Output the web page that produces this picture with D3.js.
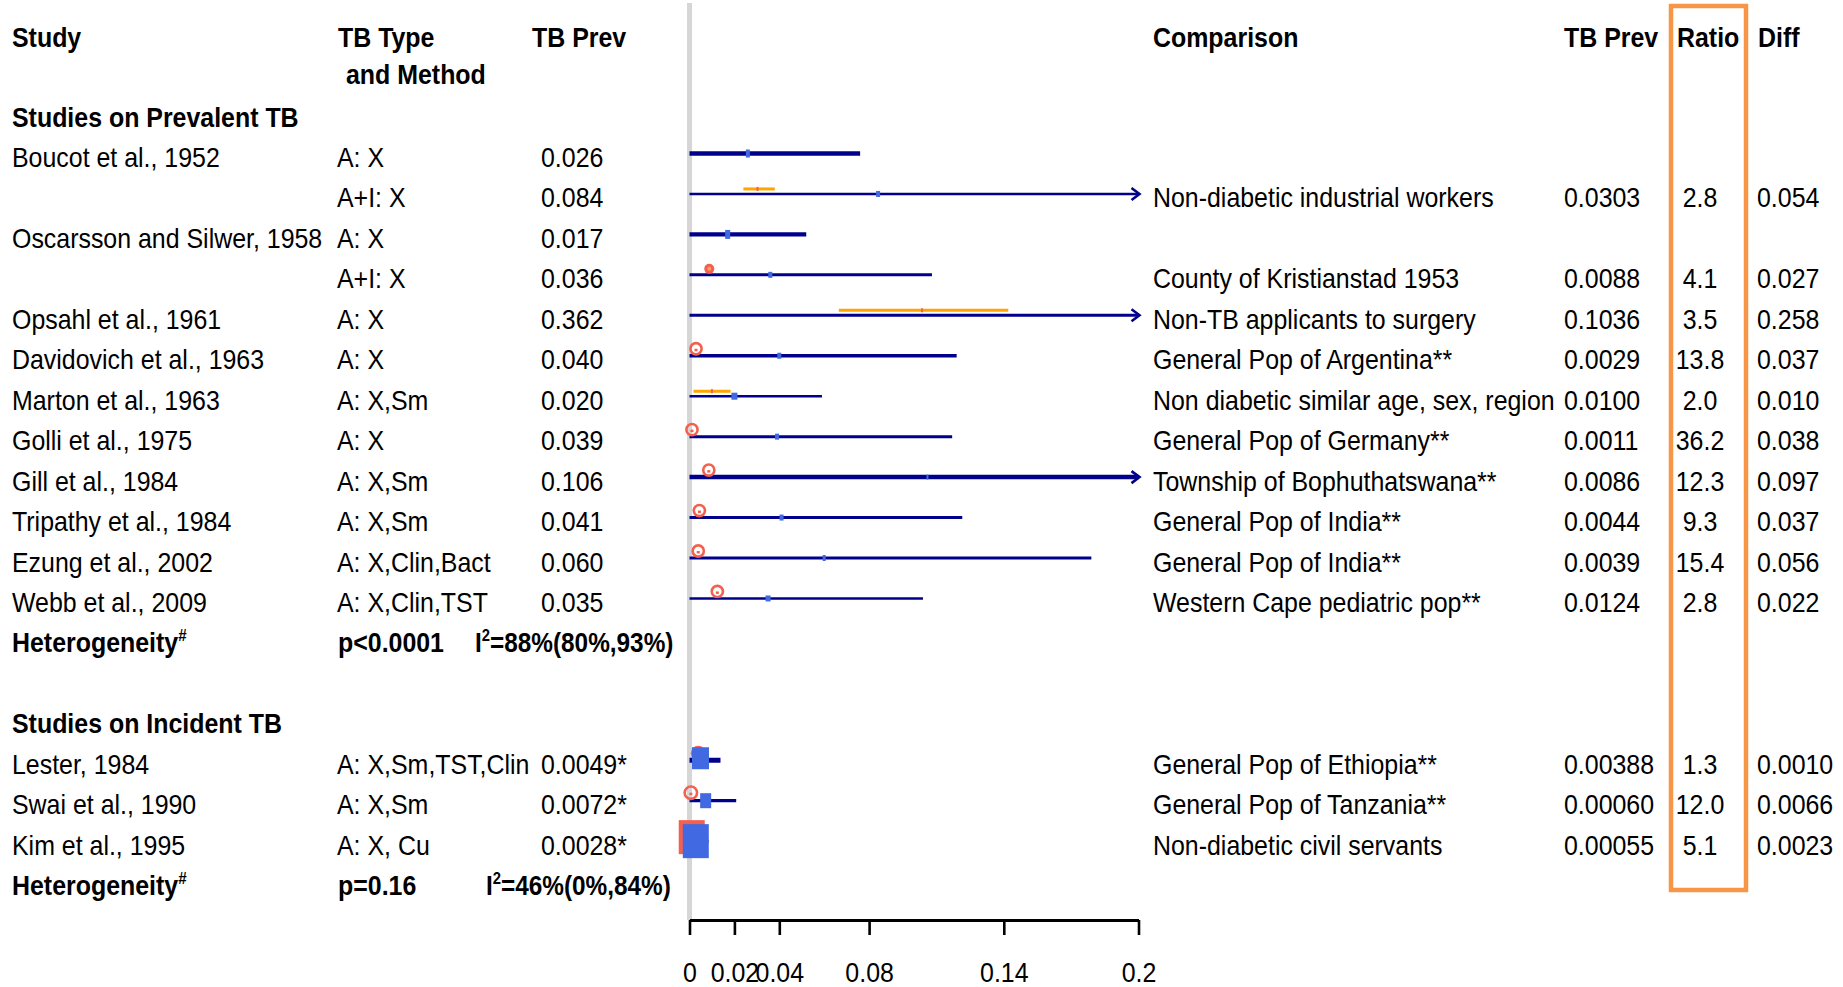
<!DOCTYPE html>
<html>
<head>
<meta charset="utf-8">
<script src="https://cdn.jsdelivr.net/npm/d3@7/dist/d3.min.js"></script>
<style>
  html, body { margin: 0; padding: 0; background: #fff; }
  svg { display: block; }
  text { font-family: "Liberation Sans", Arial, sans-serif; font-size: 28px; fill: #000; }
</style>
</head>
<body>
<svg id="chart" width="1843" height="987"></svg>
<script>
// ---------------- DATA ----------------
// Prevalent TB studies
const prevStudies = ["Boucot et al., 1952", "", "Oscarsson and Silwer, 1958", "", "Opsahl et al., 1961",
  "Davidovich et al., 1963", "Marton et al., 1963", "Golli et al., 1975", "Gill et al., 1984",
  "Tripathy et al., 1984", "Ezung et al., 2002", "Webb et al., 2009"];
const prevMethods = ["A: X", "A+I: X", "A: X", "A+I: X", "A: X", "A: X", "A: X,Sm", "A: X",
  "A: X,Sm", "A: X,Sm", "A: X,Clin,Bact", "A: X,Clin,TST"];
const prevLabels = ["0.026", "0.084", "0.017", "0.036", "0.362", "0.040", "0.020", "0.039",
  "0.106", "0.041", "0.060", "0.035"];
const prevValues = [0.026, 0.084, 0.017, 0.036, 0.362, 0.040, 0.020, 0.039, 0.106, 0.041, 0.060, 0.035];
const prevLow = [0, 0, 0, 0, 0, 0, 0, 0, 0, 0, 0, 0];
const prevHigh = [0.076, 0.30, 0.052, 0.108, 0.50, 0.119, 0.059, 0.117, 0.30, 0.1215, 0.179, 0.104];
const prevComparison = ["", "Non-diabetic industrial workers", "", "County of Kristianstad 1953",
  "Non-TB applicants to surgery", "General Pop of Argentina**", "Non diabetic similar age, sex, region",
  "General Pop of Germany**", "Township of Bophuthatswana**", "General Pop of India**",
  "General Pop of India**", "Western Cape pediatric pop**"];
const prevCompLabels = ["", "0.0303", "", "0.0088", "0.1036", "0.0029", "0.0100", "0.0011",
  "0.0086", "0.0044", "0.0039", "0.0124"];
const prevCompValues = [null, 0.0303, null, 0.0088, 0.1036, 0.0029, 0.0100, 0.0011, 0.0086, 0.0044, 0.0039, 0.0124];
const prevCompLow = [null, 0.024, null, null, 0.0665, null, 0.0018, null, null, null, null, null];
const prevCompHigh = [null, 0.038, null, null, 0.142, null, 0.0183, null, null, null, null, null];
const prevRatios = ["", "2.8", "", "4.1", "3.5", "13.8", "2.0", "36.2", "12.3", "9.3", "15.4", "2.8"];
const prevDiffs = ["", "0.054", "", "0.027", "0.258", "0.037", "0.010", "0.038", "0.097", "0.037", "0.056", "0.022"];

// Incident TB studies
const incStudies = ["Lester, 1984", "Swai et al., 1990", "Kim et al., 1995"];
const incMethods = ["A: X,Sm,TST,Clin", "A: X,Sm", "A: X, Cu"];
const incLabels = ["0.0049*", "0.0072*", "0.0028*"];
const incValues = [0.0049, 0.0072, 0.0028];
const incLow = [0, 0, 0];
const incHigh = [0.0138, 0.0208, 0.0085];
const incComparison = ["General Pop of Ethiopia**", "General Pop of Tanzania**", "Non-diabetic civil servants"];
const incCompLabels = ["0.00388", "0.00060", "0.00055"];
const incCompValues = [0.00388, 0.00060, 0.00055];
const incRatios = ["1.3", "12.0", "5.1"];
const incDiffs = ["0.0010", "0.0066", "0.0023"];

// Heterogeneity
const hetP = ["p<0.0001", "p=0.16"];
const hetI2 = ["88%(80%,93%)", "46%(0%,84%)"];

// Axis
const tickValues = [0, 0.02, 0.04, 0.08, 0.14, 0.2];
const tickLabels = ["0", "0.02", "0.04", "0.08", "0.14", "0.2"];

// ---------------- STYLE ----------------
const NAVY = "#00008b", BLUE = "#4169e1", ORANGE = "#ffa500", RED = "#f4604e", BOX = "#f79646";
const SX = 0.89;
const prevLineW = [4.3, 2.4, 4.2, 3, 3, 3.3, 2.4, 3, 4.5, 3, 3, 2.4];
const incLineW = [5, 3.2, 3];
const prevBoxW = [4, 4, 5, 4, 0, 4, 6, 4, 2, 4, 3, 5];
const prevBoxH = [8, 6, 9, 6, 0, 6, 7, 6, 5, 6, 6, 6];
const incBoxW = [17, 11, 26];
const incBoxH = [22, 15, 34];
const prevCompMark = [null, "tick", null, "dot", "tick", "ring", "tick", "ring", "ring", "ring", "ring", "ring"];
const incCompMark = ["cap", "ring", "box"];

// ---------------- CHART ----------------
const svg = d3.select("#chart");
const x = d3.scaleLinear().domain([0, 0.2]).range([689.5, 1138.5]);
const row = d3.scaleLinear().domain([0, 1]).range([158, 198.45]); // row index -> text centre
const axisY = 920;
const BL = 9; // baseline offset from row centre

function txt(px, py, s, o = {}) {
  const t = svg.append("text")
    .attr("transform", `translate(${px},${py}) scale(${o.sx || SX},1)`)
    .attr("text-anchor", o.anchor || "start")
    .style("font-weight", o.bold ? "bold" : "normal");
  if (typeof s === "string") t.text(s);
  else s.forEach(p => {
    const ts = t.append("tspan").text(p.t);
    if (p.sup) ts.attr("dy", -11).style("font-size", "17px");
    if (p.after) ts.attr("dy", 11);
  });
  return t;
}

// grey reference line at 0
svg.append("rect").attr("x", x(0) - 2.5).attr("y", 3).attr("width", 5).attr("height", axisY - 3).attr("fill", "#d6d6d6");

// headers
const hb = row(-3) + BL + 1;
txt(12, hb, "Study", { bold: true });
txt(338, hb, "TB Type", { bold: true });
txt(346, row(-2) + 7, "and Method", { bold: true });
txt(532, hb, "TB Prev", { bold: true });
txt(1153, hb, "Comparison", { bold: true });
txt(1564, hb, "TB Prev", { bold: true });
txt(1677, hb, "Ratio", { bold: true });
txt(1758, hb, "Diff", { bold: true });

txt(12, row(-1) + BL, "Studies on Prevalent TB", { bold: true });
txt(12, row(14) + BL, "Studies on Incident TB", { bold: true });

// heterogeneity rows
[[12, 0, 475], [18, 1, 486]].forEach(([ri, k, ix]) => {
  const b = row(ri) + BL;
  txt(12, b, [{ t: "Heterogeneity" }, { t: "#", sup: true }], { bold: true });
  txt(338, b, hetP[k], { bold: true });
  txt(ix, b, [{ t: "I" }, { t: "2", sup: true }, { t: "=" + hetI2[k], after: true }], { bold: true, sx: 0.87 });
});

function drawRow(ri, d) {
  const cy = row(ri);
  const b = cy + BL;
  const ly = cy - 4.5;
  if (d.study) txt(12, b, d.study);
  txt(337, b, d.method);
  txt(541, b, d.label);
  if (d.comp) {
    txt(1153, b, d.comp);
    txt(1564, b, d.compLabel);
    txt(1700, b, d.ratio, { anchor: "middle" });
    txt(1757, b, d.diff);
  }
  // comparison markers drawn behind (cap / box)
  if (d.mark === "cap") {
    svg.append("circle").attr("cx", x(d.compVal)).attr("cy", ly - 7).attr("r", 7.5).attr("fill", RED);
  }
  if (d.mark === "box") {
    svg.append("rect").attr("x", x(d.compVal) + 1 - d.bw / 2).attr("y", ly - 4 - d.bh / 2)
      .attr("width", d.bw).attr("height", d.bh).attr("fill", RED);
  }
  // CI line
  const hiClip = Math.min(d.hi, 0.2);
  svg.append("line").attr("x1", x(d.lo)).attr("x2", x(hiClip)).attr("y1", ly).attr("y2", ly)
    .attr("stroke", NAVY).attr("stroke-width", d.lw);
  if (d.hi > 0.2) {
    const tx = x(0.2) + 1;
    svg.append("path").attr("d", `M${tx - 8},${ly - 6}L${tx},${ly}L${tx - 8},${ly + 6}`)
      .attr("fill", "none").attr("stroke", NAVY).attr("stroke-width", 2.6);
  }
  // comparison CI (orange)
  if (d.mark === "tick") {
    svg.append("line").attr("x1", x(d.compLo)).attr("x2", x(d.compHi)).attr("y1", ly - 5).attr("y2", ly - 5)
      .attr("stroke", ORANGE).attr("stroke-width", 3);
    svg.append("rect").attr("x", x(d.compVal) - 1).attr("y", ly - 7).attr("width", 2).attr("height", 4).attr("fill", RED);
  }
  if (d.mark === "dot") {
    svg.append("circle").attr("cx", x(d.compVal)).attr("cy", ly - 6).attr("r", 5).attr("fill", RED);
    svg.append("circle").attr("cx", x(d.compVal)).attr("cy", ly - 6).attr("r", 2).attr("fill", "#ffa060");
  }
  if (d.mark === "ring") {
    const ry = ri >= 15 ? ly - 8 : ly - 7;
    svg.append("circle").attr("cx", x(d.compVal)).attr("cy", ry).attr("r", ri >= 15 ? 6.2 : 5.6)
      .attr("fill", "none").attr("stroke", RED).attr("stroke-width", 2.6);
    svg.append("rect").attr("x", x(d.compVal) - 1.5).attr("y", ry).attr("width", 3).attr("height", 2.5).attr("fill", RED);
  }
  // point estimate
  if (d.val <= 0.2 && d.bw > 0) {
    svg.append("rect").attr("x", x(d.val) - d.bw / 2).attr("y", ly - d.bh / 2 - (ri === 15 ? 2 : 0))
      .attr("width", d.bw).attr("height", d.bh).attr("fill", BLUE);
  }
}

prevStudies.forEach((s, i) => drawRow(i, {
  study: s, method: prevMethods[i], label: prevLabels[i], val: prevValues[i],
  lo: prevLow[i], hi: prevHigh[i], comp: prevComparison[i], compLabel: prevCompLabels[i],
  compVal: prevCompValues[i], compLo: prevCompLow[i], compHi: prevCompHigh[i],
  ratio: prevRatios[i], diff: prevDiffs[i], mark: prevCompMark[i],
  lw: prevLineW[i], bw: prevBoxW[i], bh: prevBoxH[i]
}));
incStudies.forEach((s, i) => drawRow(15 + i, {
  study: s, method: incMethods[i], label: incLabels[i], val: incValues[i],
  lo: incLow[i], hi: incHigh[i], comp: incComparison[i], compLabel: incCompLabels[i],
  compVal: incCompValues[i], ratio: incRatios[i], diff: incDiffs[i], mark: incCompMark[i],
  lw: incLineW[i], bw: incBoxW[i], bh: incBoxH[i]
}));

// axis
const axis = d3.axisBottom(x).tickValues(tickValues).tickSize(15).tickSizeOuter(0)
  .tickFormat((d, i) => tickLabels[i]);
const ag = svg.append("g").attr("transform", `translate(0,${axisY})`).call(axis);
ag.select(".domain").attr("stroke", "#000").attr("stroke-width", 3.2);
ag.selectAll(".tick line").attr("stroke", "#000").attr("stroke-width", 2.6);
ag.selectAll(".tick text").attr("y", 62).attr("dy", 0)
  .attr("transform", `scale(${SX},1)`)
  .style("font-size", "28px").style("font-family", "'Liberation Sans', Arial, sans-serif").attr("fill", "#000");

// highlight box around Ratio column
svg.append("rect").attr("x", 1671).attr("y", 6).attr("width", 75).attr("height", 884)
  .attr("fill", "none").attr("stroke", BOX).attr("stroke-width", 4.5);
</script>
</body>
</html>
